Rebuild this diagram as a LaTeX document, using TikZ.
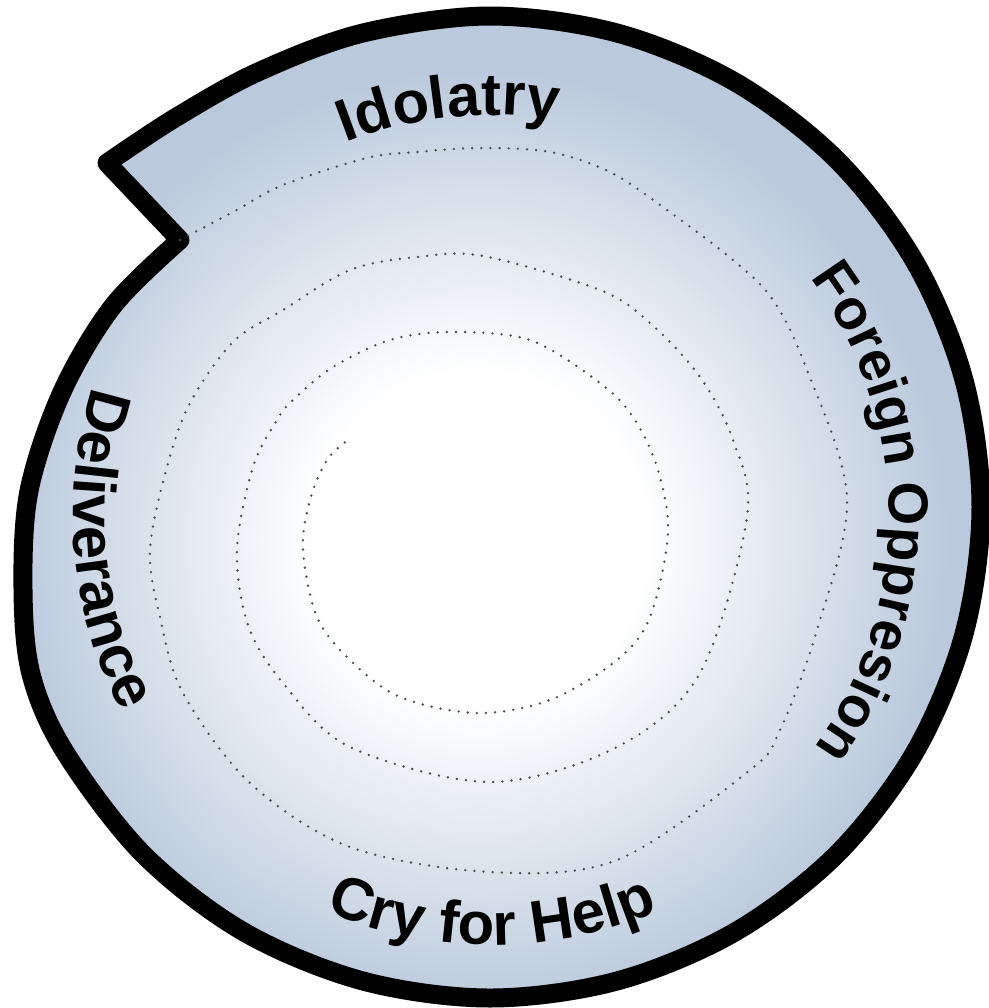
\documentclass[tikz,border=0pt]{standalone}
\usepackage{fontspec}
\setmainfont{Liberation Sans}
\usetikzlibrary{decorations.text,calc}

\definecolor{ringpale}{RGB}{234,239,245}
\definecolor{ringmid}{RGB}{212,222,233}
\definecolor{ringedge}{RGB}{186,201,220}
\pgfdeclareradialshading{ringfade}{\pgfpoint{0bp}{0bp}}{%
  color(0bp)=(white); color(7bp)=(white); color(10.8bp)=(ringpale);
  color(15bp)=(ringmid); color(19.6bp)=(ringedge); color(50bp)=(ringedge)}

\newcommand\lblfont{\bfseries\fontsize{17}{20}\selectfont}
\newcommand\lblfontsm{\bfseries\fontsize{16}{19}\selectfont}
\newcommand\spiraledge{plot[smooth, tension=0.55] coordinates {
    (107,163) (175,118) (258,72) (363,33) (490,16) (617,33) (735,82)
    (837,160) (915,262) (964,380) (981,507) (964,634) (915,752)
    (837,854) (735,932) (617,981) (490,998) (363,981) (244,932)
    (143,854) (65,752) (31,674) (23,589) (29,491) (62,392) (113,306)
    (180,240)} -- cycle}

\begin{document}
\begin{tikzpicture}[x=0.01cm, y=-0.01cm,
    edge/.style={line width=5.4pt, line join=round, black},
    ringdots/.style={line width=0.75pt, line cap=round,
        dash pattern=on 0pt off 2.6pt, black!70},
    lbl/.style={decorate, decoration={text along path,
        text align=center, text={|\lblfont|#1}}},
    lblsm/.style={decorate, decoration={text along path,
        text align=center, text={|\lblfontsm|#1}}}]

    \useasboundingbox (0,0) rectangle (989,1008);
    \coordinate (hub) at (492,516);

    % Body of the spiral
    \begin{scope}
        \clip \spiraledge;
        \shade[shading=ringfade] (478,540) circle[radius=600];
    \end{scope}

    % Outline
    \draw[edge] \spiraledge;

    % Dotted spiral
    \draw[ringdots] plot[smooth, tension=0.55] coordinates {
        (180,240) (233,212) (283,185) (367,158) (417,152) (480,148)
        (550,152) (610,172) (667,210) (733,260) (773,300) (805,365)
        (847,497) (817,630) (780,730) (750,770) (617,860) (490,872)
        (350,847) (250,783) (183,693) (160,617) (150,550) (167,467)
        (190,403) (233,342) (283,310) (350,270) (417,257) (483,256)
        (600,290) (650,323) (700,377) (733,440) (747,517) (700,673)
        (617,747) (490,782) (350,747) (283,683) (248,625) (237,550)
        (253,467) (277,420) (293,400) (333,367) (390,340) (450,332)
        (530,340) (600,383) (633,417) (657,467) (668,533) (650,617)
        (617,660) (550,700) (477,713) (400,697) (350,660) (317,617)
        (303,550) (310,500) (327,460) (348,440)};

    % Labels
    \path[lbl=Idolatry] ($(hub)+(-126:401)$)
        arc[start angle=-126, end angle=-66, radius=401];
    \path[lblsm=Foreign Oppresion] ($(hub)+(-50:397)$)
        arc[start angle=-50, end angle=49, radius=397];
    \path[lbl=Cry for Help] ($(hub)+(130:429)$)
        arc[start angle=130, end angle=50, radius=429];
    \path[lbl=Deliverance] ($(hub)+(-150:419)$)
        arc[start angle=-150, end angle=-220, radius=419];

\end{tikzpicture}
\end{document}
